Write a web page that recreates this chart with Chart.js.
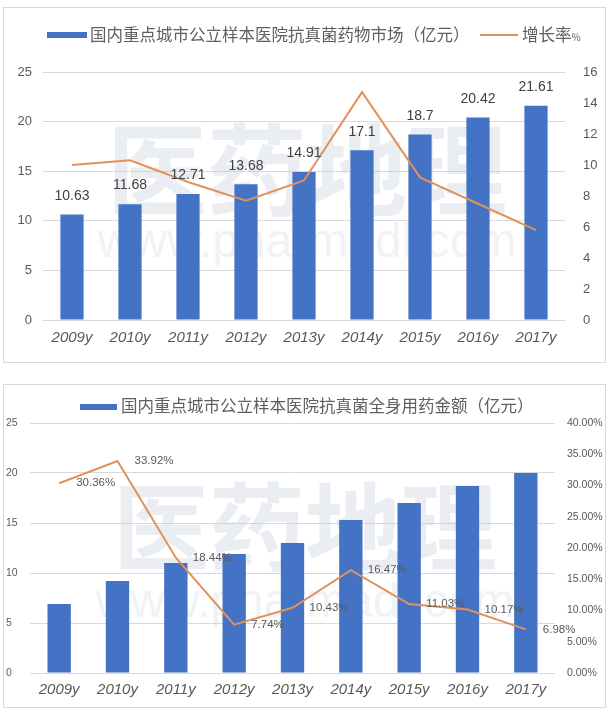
<!DOCTYPE html>
<html><head><meta charset="utf-8">
<script src="https://cdn.jsdelivr.net/npm/chart.js@4/dist/chart.umd.min.js"></script>
<style>
html,body{margin:0;padding:0;background:#fff;}
body{width:609px;height:712px;overflow:hidden;position:relative;font-family:"Noto Sans CJK SC","Liberation Sans",sans-serif;}
.box{position:absolute;left:3px;width:601px;border:1px solid #d9d9d9;background:#fff;}
#box1{top:7px;height:354px;}
#box2{top:384px;height:322px;}
canvas{display:block;}
.lg{position:absolute;color:#5f5f5f;white-space:nowrap;font-size:16.5px;line-height:20px;height:20px;}
.sw{position:absolute;}
</style>
</head><body>
<div class="box" id="box1"><canvas id="c1" width="601" height="354"></canvas></div>
<div class="box" id="box2"><canvas id="c2" width="601" height="322"></canvas></div>

<div class="sw" style="left:47px;top:32px;width:40px;height:6px;background:#4472C4"></div>
<div class="lg" id="lg1a" style="left:90px;top:24px;"></div>
<div class="sw" style="left:480px;top:34px;width:38px;height:2px;background:#E0925C"></div>
<div class="lg" id="lg1b" style="left:522px;top:24px;"></div>

<div class="sw" style="left:80px;top:404px;width:37px;height:6px;background:#4472C4"></div>
<div class="lg" id="lg2a" style="left:121px;top:395px;"></div>

<script>
// ---------- data ----------
const years = ['2009y','2010y','2011y','2012y','2013y','2014y','2015y','2016y','2017y'];
const marketLabel = '国内重点城市公立样本医院抗真菌药物市场（亿元）';
const growthLabel = '增长率';
const marketValues = [10.63, 11.68, 12.71, 13.68, 14.91, 17.1, 18.7, 20.42, 21.61];
const growthRates1 = [10.0, 10.3, 8.9, 7.7, 9.0, 14.7, 9.2, 7.5, 5.8];

const systemicLabel = '国内重点城市公立样本医院抗真菌全身用药金额（亿元）';
const systemicValues = [6.9, 9.2, 11.0, 11.9, 13.0, 15.3, 17.0, 18.7, 20.0];
const systemicGrowth = [30.36, 33.92, 18.44, 7.74, 10.43, 16.47, 11.03, 10.17, 6.98];

const watermarkCN = '医药地理';
const watermarkURL = 'www.pharmadl.com';

// ---------- legends (HTML text) ----------
document.getElementById('lg1a').textContent = marketLabel;
document.getElementById('lg1b').innerHTML = growthLabel + '<span style="font-size:10px">%</span>';
document.getElementById('lg2a').textContent = systemicLabel;

const BLUE = '#4472C4';
const ORANGE = '#E0925C';
const TXT = '#595959';
const GRID = '#d9d9d9';

const watermarkPlugin = {
  id: 'wm',
  beforeDatasetsDraw(chart, args, o) {
    const ctx = chart.ctx;
    ctx.save();
    ctx.fillStyle = 'rgba(185,197,212,0.3)';
    ctx.textAlign = 'center';
    ctx.textBaseline = 'middle';
    ctx.font = 'bold ' + o.cnSize + 'px "Noto Sans CJK SC"';
    ctx.fillText(watermarkCN, o.cx, o.cnY);
    ctx.fillStyle = 'rgba(195,205,218,0.25)';
    ctx.textBaseline = 'alphabetic';
    ctx.font = o.urlSize + 'px "Liberation Sans"';
    ctx.fillText(watermarkURL, o.cx, o.urlY);
    ctx.restore();
  }
};

const labelPlugin = {
  id: 'vlabels',
  afterDatasetsDraw(chart, args, o) {
    const ctx = chart.ctx;
    const meta = chart.getDatasetMeta(o.datasetIndex);
    const data = chart.data.datasets[o.datasetIndex].data;
    ctx.save();
    ctx.font = o.size + 'px "Liberation Sans"';
    ctx.fillStyle = o.color;
    ctx.textAlign = o.align;
    ctx.textBaseline = 'middle';
    meta.data.forEach((el, i) => {
      ctx.fillText(o.fmt(data[i]), el.x + o.dx, el.y + o.dy);
    });
    ctx.restore();
  }
};

Chart.defaults.font.family = '"Liberation Sans", sans-serif';
Chart.defaults.color = TXT;

// ---------- chart 1 ----------
new Chart(document.getElementById('c1'), {
  type: 'bar',
  data: {
    labels: years,
    datasets: [
      { type: 'line', label: growthLabel, data: growthRates1, yAxisID: 'y1', borderColor: ORANGE,
        borderWidth: 2, pointRadius: 0, tension: 0, fill: false, order: 1 },
      { type: 'bar', label: marketLabel, data: marketValues, yAxisID: 'y', backgroundColor: BLUE,
        categoryPercentage: 1, barPercentage: 0.4, order: 2 }
    ]
  },
  options: {
    responsive: false, animation: false, devicePixelRatio: 1,
    layout: { padding: { top: 64, left: 0, right: 0, bottom: 0 } },
    plugins: {
      legend: { display: false }, tooltip: { enabled: false },
      wm: { cx: 303, cnY: 162, cnSize: 100, urlY: 249, urlSize: 48 },
      vlabels: { datasetIndex: 1, size: 14, color: '#404040', align: 'center', dx: 0, dy: -18.5,
        fmt: v => String(v) }
    },
    scales: {
      x: { grid: { display: false, drawTicks: false }, border: { display: false },
        ticks: { font: { size: 15, style: 'italic' }, color: TXT, padding: 9, maxRotation: 0, autoSkip: false },
        afterFit(s) { s.height = 42; } },
      y: { position: 'left', min: 0, max: 25,
        ticks: { stepSize: 5, font: { size: 13 }, color: TXT, padding: 11 },
        grid: { color: GRID, drawTicks: false, lineWidth: 1 }, border: { display: false },
        afterFit(s) { s.width = 39; } },
      y1: { position: 'right', min: 0, max: 16,
        ticks: { stepSize: 2, font: { size: 13 }, color: TXT, padding: 18 },
        grid: { display: false, drawTicks: false }, border: { display: false },
        afterFit(s) { s.width = 40; } }
    }
  },
  plugins: [watermarkPlugin, labelPlugin]
});

// ---------- chart 2 ----------
new Chart(document.getElementById('c2'), {
  type: 'bar',
  data: {
    labels: years,
    datasets: [
      { type: 'line', label: '增长率', data: systemicGrowth, yAxisID: 'y1', borderColor: ORANGE,
        borderWidth: 2, pointRadius: 0, tension: 0, fill: false, order: 1 },
      { type: 'bar', label: systemicLabel, data: systemicValues, yAxisID: 'y', backgroundColor: BLUE,
        categoryPercentage: 1, barPercentage: 0.4, order: 2 }
    ]
  },
  options: {
    responsive: false, animation: false, devicePixelRatio: 1,
    layout: { padding: { top: 38, left: 2, right: 0, bottom: 0 } },
    plugins: {
      legend: { display: false }, tooltip: { enabled: false },
      wm: { cx: 301, cnY: 142, cnSize: 96, urlY: 232, urlSize: 48 },
      vlabels: { datasetIndex: 0, size: 11.5, color: TXT, align: 'left', dx: 17, dy: 0,
        fmt: v => v.toFixed(2) + '%' }
    },
    scales: {
      x: { grid: { display: false, drawTicks: false }, border: { display: false },
        ticks: { font: { size: 15, style: 'italic' }, color: TXT, padding: 8, maxRotation: 0, autoSkip: false },
        afterFit(s) { s.height = 34; } },
      y: { position: 'left', min: 0, max: 25,
        ticks: { stepSize: 5, font: { size: 10.5 }, color: TXT, padding: 2, crossAlign: 'far' },
        grid: { color: GRID, drawTicks: false }, border: { display: false },
        afterFit(s) { s.width = 24; } },
      y1: { position: 'right', min: 0, max: 40,
        ticks: { stepSize: 5, font: { size: 10.5 }, color: TXT, padding: 12,
          callback: v => Number(v).toFixed(2) + '%' },
        grid: { display: false, drawTicks: false }, border: { display: false },
        afterFit(s) { s.width = 50; } }
    }
  },
  plugins: [watermarkPlugin, labelPlugin]
});
</script>
</body></html>
